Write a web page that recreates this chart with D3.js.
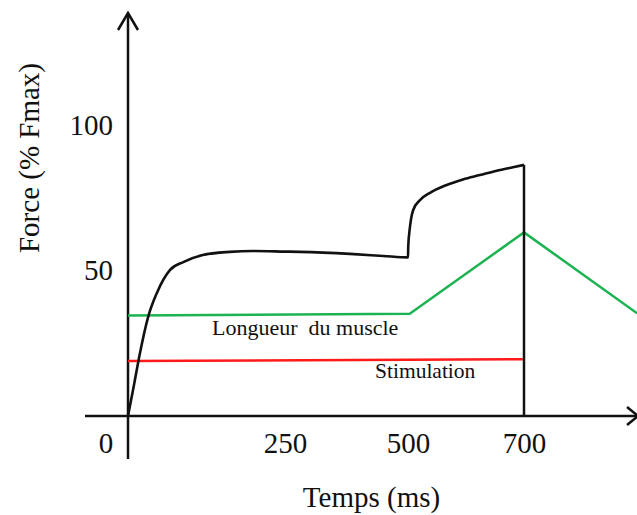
<!DOCTYPE html>
<html>
<head>
<meta charset="utf-8">
<script src="https://cdn.jsdelivr.net/npm/d3@7/dist/d3.min.js"></script>
<style>
  html, body { margin: 0; padding: 0; background: #fff; }
  svg { display: block; }
  text { font-family: "Liberation Serif", "Times New Roman", serif; fill: #111; }
</style>
</head>
<body>
<svg id="chart" width="637" height="515"></svg>
<script>
// ---- data ----
const xTicks = [250, 500, 700];
const yTicks = [50, 100];
const xLabel = "Temps (ms)";
const yLabel = "Force (% Fmax)";
// force curve [time ms, force %Fmax]
const forceTime  = [0, 8, 19, 32, 46, 67, 88, 119, 162, 199, 250, 280, 382, 450, 500, 500.4, 503.4, 509, 520.7, 538, 566.7, 594.8, 624, 653, 681, 700];
const forceValue = [0, 8.9, 21.6, 34, 42.3, 50.2, 52.9, 55.3, 56.4, 56.7, 56.5, 56.4, 55.7, 55.0, 54.5, 58.2, 65.0, 70.8, 74.2, 76.7, 79.4, 81.3, 82.8, 84.3, 85.5, 86.3];
// muscle length (green)
const lengthTime  = [0, 503, 700, 895];
const lengthValue = [34.5, 35.1, 63.1, 35.3];
// stimulation (red)
const stimTime  = [0, 698];
const stimValue = [18.9, 19.5];
const lengthLabel = "Longueur  du muscle";
const stimLabel = "Stimulation";

// ---- scales ----
const x = d3.scaleLinear().domain([0, 250, 500, 700]).range([128, 285, 408, 524]);
const y = d3.scaleLinear().domain([0, 100]).range([416, 125]);

const svg = d3.select("#chart");
const zip = (a, b) => a.map((t, i) => ({ t, v: b[i] }));

// ---- axes lines with arrows ----
const axisG = svg.append("g").attr("stroke", "#111").attr("stroke-width", 2.5).attr("fill", "none");
axisG.append("line").attr("x1", x(0)).attr("x2", x(0)).attr("y1", 13).attr("y2", 459);
axisG.append("polyline").attr("points", `${x(0)-10},30 ${x(0)},13 ${x(0)+10},30`);
axisG.append("line").attr("x1", 85).attr("x2", 638).attr("y1", y(0)).attr("y2", y(0));
axisG.append("polyline").attr("points", `627,407 638,${y(0)} 627,425`);

// ---- tick labels ----
const yAxis = d3.axisLeft(y).tickValues(yTicks).tickSize(0).tickPadding(15);
const gy = svg.append("g").attr("transform", `translate(${x(0)},0)`).call(yAxis);
gy.select(".domain").remove();
gy.selectAll("text").style("font-family", '"Liberation Serif", serif').style("font-size", "29px").attr("fill", "#111");

const xAxis = d3.axisBottom(x).tickValues(xTicks).tickSize(0).tickPadding(16);
const gx = svg.append("g").attr("transform", `translate(0,${y(0)})`).call(xAxis);
gx.select(".domain").remove();
gx.selectAll("text").style("font-family", '"Liberation Serif", serif').style("font-size", "29px").attr("fill", "#111");

svg.append("text").attr("x", 106).attr("y", 453).attr("text-anchor", "middle")
  .style("font-size", "29px").text("0");

// axis titles
svg.append("text").attr("x", 371.5).attr("y", 507).attr("text-anchor", "middle")
  .style("font-size", "29px").text(xLabel);
svg.append("text").attr("transform", "translate(39,158) rotate(-90)").attr("text-anchor", "middle")
  .style("font-size", "29px").text(yLabel);

// ---- series ----
const lineLin = d3.line().x(d => x(d.t)).y(d => y(d.v));
const lineCurve = d3.line().x(d => x(d.t)).y(d => y(d.v)).curve(d3.curveMonotoneX);

svg.append("path").datum(zip(stimTime, stimValue)).attr("d", lineLin)
  .attr("fill", "none").attr("stroke", "#ff1a1a").attr("stroke-width", 2.5);

svg.append("path").datum(zip(lengthTime, lengthValue)).attr("d", lineLin)
  .attr("fill", "none").attr("stroke", "#1db352").attr("stroke-width", 2.5);

const force = zip(forceTime, forceValue);
svg.append("path").datum(force).attr("d", lineCurve)
  .attr("fill", "none").attr("stroke", "#111").attr("stroke-width", 2.6).attr("stroke-linejoin", "round");
const last = force[force.length - 1];
svg.append("path").datum([last, { t: last.t, v: 0 }]).attr("d", lineLin)
  .attr("fill", "none").attr("stroke", "#111").attr("stroke-width", 2.5);

// ---- series labels ----
svg.append("text").attr("x", 212).attr("y", 335).style("font-size", "22px")
  .style("white-space", "pre").text(lengthLabel);
svg.append("text").attr("x", 375).attr("y", 378).style("font-size", "21.5px").text(stimLabel);
</script>
</body>
</html>
